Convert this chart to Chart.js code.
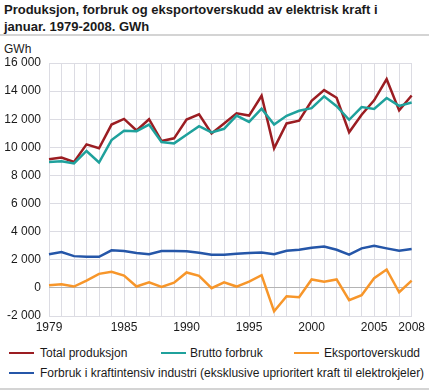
<!DOCTYPE html>
<html>
<head>
<meta charset="utf-8">
<script src="https://cdn.jsdelivr.net/npm/chart.js@4"></script>
<style>
  body { margin:0; background:#fff; font-family:"Liberation Sans", Arial, sans-serif; color:#1a1a1a; }
  #wrap { position:relative; width:429px; height:391px; overflow:hidden; }
  .title { position:absolute; left:4px; top:1px; font-weight:bold; font-size:13px; line-height:17px; }
  .rule { position:absolute; left:0; width:429px; height:2px; background:#d4d4d4; }
  .unit { position:absolute; left:4px; top:42px; font-size:12px; }
  .leg { position:absolute; font-size:12px; line-height:14px; white-space:nowrap; }
  .leg i { position:absolute; width:25px; height:2px; top:6px; }
  canvas { position:absolute; left:0; top:0; }
</style>
</head>
<body>
<div id="wrap">
  <div class="title">Produksjon, forbruk og eksportoverskudd av elektrisk kraft i<br>januar. 1979-2008. GWh</div>
  <div class="rule" style="top:34px"></div>
  <div class="unit">GWh</div>
  <canvas id="chart" width="429" height="340"></canvas>
  <div class="leg" style="left:9px;top:346px"><i style="background:#9b1d22"></i><span style="margin-left:31px">Total produksjon</span></div>
  <div class="leg" style="left:161px;top:346px"><i style="background:#1fa19c"></i><span style="margin-left:29px">Brutto forbruk</span></div>
  <div class="leg" style="left:294px;top:346px"><i style="background:#f7962a"></i><span style="margin-left:30px">Eksportoverskudd</span></div>
  <div class="leg" style="left:9px;top:366px"><i style="background:#2556a8"></i><span style="margin-left:31px">Forbruk i kraftintensiv industri (eksklusive uprioritert kraft til elektrokjeler)</span></div>
  <div class="rule" style="top:388px"></div>
</div>
<script>
  // Years on the x axis, only some get a label
  var years = [];
  for (var y = 1979; y <= 2008; y++) years.push(String(y));
  var yearLabels = ['1979', '1985', '1990', '1995', '2000', '2005', '2008'];

  var totalProduksjon = [9150, 9270, 8960, 10210, 9930, 11620, 12020, 11200, 12000, 10450,
                         10640, 11980, 12350, 10990, 11700, 12420, 12260, 13670, 9930, 11700,
                         11900, 13310, 14070, 13530, 11070, 12320, 13340, 14850, 12630, 13690];
  var bruttoForbruk   = [8960, 9010, 8850, 9740, 8920, 10520, 11180, 11150, 11620, 10380,
                         10280, 10890, 11500, 11060, 11320, 12260, 11810, 12750, 11620, 12240,
                         12600, 12790, 13630, 12930, 11960, 12860, 12730, 13510, 12950, 13190];
  var eksport         = [190, 260, 95, 520, 1000, 1140, 880, 95, 400, 70,
                         370, 1100, 860, -20, 400, 95, 450, 900, -1670, -600,
                         -660, 600, 430, 600, -880, -520, 690, 1310, -310, 520];
  var kraftintensiv   = [2400, 2550, 2260, 2210, 2210, 2670, 2620, 2480, 2400, 2620,
                         2620, 2600, 2500, 2360, 2360, 2430, 2480, 2520, 2400, 2640,
                         2710, 2860, 2950, 2710, 2360, 2810, 3000, 2810, 2640, 2760];

  var yTicks = { min: -2000, max: 16000, step: 2000 };

  function fmt(v) {
    var s = String(Math.abs(v)).replace(/\B(?=(\d{3})+(?!\d))/g, ' ');
    return (v < 0 ? '-' : '') + s;
  }

  function line(label, data, color) {
    return { label: label, data: data, borderColor: color, backgroundColor: color,
             borderWidth: 2.5, pointRadius: 0, tension: 0, fill: false };
  }

  Chart.defaults.font.family = '"Liberation Sans", Arial, sans-serif';
  Chart.defaults.font.size = 12;
  Chart.defaults.color = '#1a1a1a';

  new Chart(document.getElementById('chart'), {
    type: 'line',
    data: {
      labels: years,
      datasets: [
        line('Forbruk i kraftintensiv industri', kraftintensiv, '#2556a8'),
        line('Eksportoverskudd', eksport, '#f7962a'),
        line('Brutto forbruk', bruttoForbruk, '#1fa19c'),
        line('Total produksjon', totalProduksjon, '#9b1d22')
      ]
    },
    options: {
      responsive: false,
      animation: false,
      layout: { padding: { top: 63, right: 13, left: 0, bottom: 0 } },
      plugins: { legend: { display: false }, tooltip: { enabled: false } },
      scales: {
        x: {
          grid: { color: '#dcdce3', drawTicks: false },
          border: { color: '#dcdce3' },
          ticks: {
            autoSkip: false, maxRotation: 0, padding: 4,
            callback: function (v, i) { return yearLabels.indexOf(years[i]) >= 0 ? years[i] : ''; }
          },
          afterFit: function (s) { s.height = 24; }
        },
        y: {
          min: yTicks.min, max: yTicks.max,
          grid: {
            drawTicks: false,
            color: function (c) { return c.tick && c.tick.value === 0 ? '#b4b4b4' : '#dcdce3'; }
          },
          border: { display: false },
          ticks: { stepSize: yTicks.step, padding: 8, callback: function (v) { return fmt(v); } },
          afterFit: function (s) { s.width = 49; }
        }
      }
    }
  });
</script>
</body>
</html>
